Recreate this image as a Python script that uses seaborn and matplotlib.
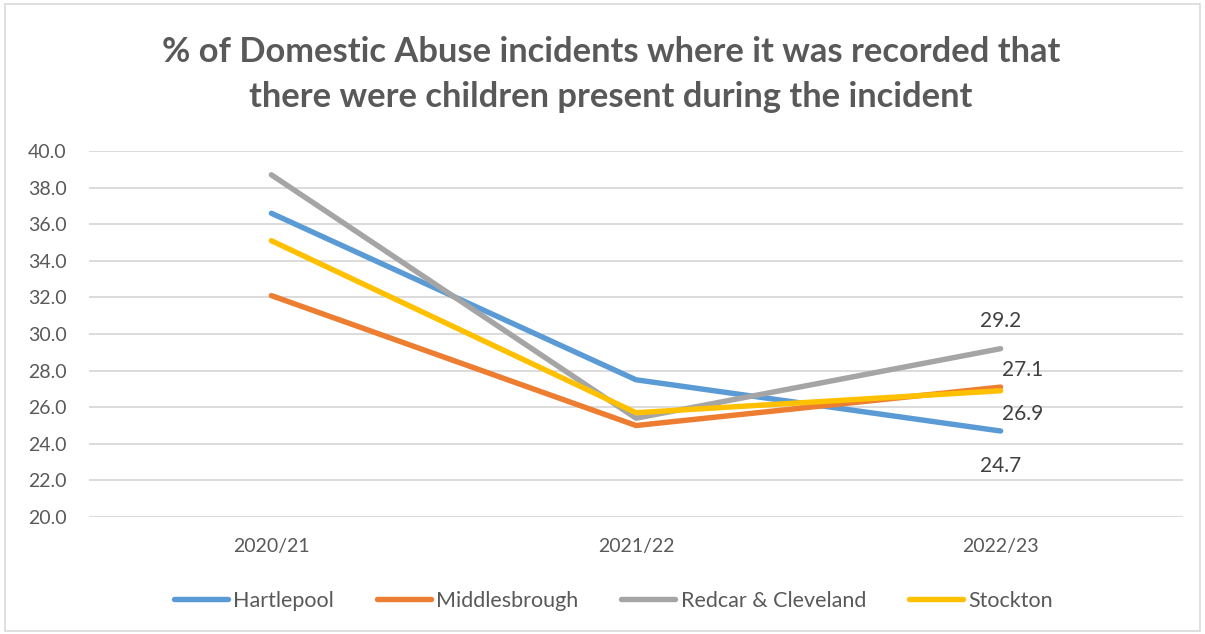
import matplotlib
matplotlib.use("Agg")
import matplotlib.pyplot as plt
import seaborn as sns
import pandas as pd
from matplotlib.patches import Rectangle

# Data
years = ["2020/21", "2021/22", "2022/23"]
hartlepool = [36.6, 27.5, 24.7]
middlesbrough = [32.1, 25.0, 27.1]
redcar = [38.7, 25.4, 29.2]
stockton = [35.1, 25.7, 26.9]
areas = ["Hartlepool", "Middlesbrough", "Redcar & Cleveland", "Stockton"]
y_ticks = [20.0, 22.0, 24.0, 26.0, 28.0, 30.0, 32.0, 34.0, 36.0, 38.0, 40.0]

series = {"Hartlepool": hartlepool, "Middlesbrough": middlesbrough,
          "Redcar & Cleveland": redcar, "Stockton": stockton}
rows = []
for name, vals in series.items():
    for i, (yr, v) in enumerate(zip(years, vals)):
        rows.append({"Year": yr, "pos": i, "Area": name, "Value": v})
df = pd.DataFrame(rows)

palette = {"Hartlepool": "#5B9BD5", "Middlesbrough": "#ED7D31",
           "Redcar & Cleveland": "#A5A5A5", "Stockton": "#FFC000"}

sns.set_theme(style="white")
plt.rcParams["font.family"] = ["Lato", "DejaVu Sans"]
text_col = "#595959"
lw = 3.9

fig = plt.figure(figsize=(12.05, 6.34), dpi=100)
ax = fig.add_axes([0.0739, 0.1845, 0.9078, 0.5773])

sns.lineplot(data=df, x="pos", y="Value", hue="Area", hue_order=areas,
             palette=palette, linewidth=lw, ax=ax, legend=False,
             solid_capstyle="round", zorder=3)

ax.set_xlim(-0.5, 2.5)
ax.set_ylim(20, 40)
ax.set_xticks(range(len(years)))
ax.set_xticklabels(years)
ax.set_yticks(y_ticks)
ax.set_yticklabels([f"{t:.1f}" for t in y_ticks])
ax.tick_params(axis="both", colors=text_col, labelsize=14, length=0)
ax.tick_params(axis="x", pad=15)
ax.tick_params(axis="y", pad=16)
ax.grid(axis="y", color="#D9D9D9", linewidth=1.3, zorder=0)
ax.grid(axis="x", visible=False)
for s in ax.spines.values():
    s.set_visible(False)
ax.set_xlabel("")
ax.set_ylabel("")

# End-point value labels
last = len(years) - 1
label_specs = [
    (redcar[last], 0, 20),
    (middlesbrough[last], 16, 12),
    (stockton[last], 16, -17),
    (hartlepool[last], 0, -25),
]
for val, dx, dy in label_specs:
    ax.annotate(f"{val:.1f}", xy=(last, val), xytext=(dx, dy),
                textcoords="offset points", ha="center", va="center",
                fontsize=15, color="#404040")

# Title
fig.text(0.507, 0.883, "% of Domestic Abuse incidents where it was recorded that\n"
         "there were children present during the incident",
         ha="center", va="center", fontsize=24.8, fontweight="bold",
         color=text_col, linespacing=1.5)

# Legend
handles = [plt.Line2D([0], [0], color=palette[a], linewidth=lw,
                      solid_capstyle="round") for a in areas]
fig.legend(handles, areas, loc="center", bbox_to_anchor=(0.509, 0.052),
           ncol=4, frameon=False, fontsize=15.5, labelcolor=text_col,
           handlelength=2.5, handletextpad=0.25, columnspacing=2.0)

# Chart border
fig.patches.append(Rectangle((0.004, 0.004), 0.992, 0.99, transform=fig.transFigure,
                             fill=False, edgecolor="#D9D9D9", linewidth=1.2))

fig.savefig("out.png", dpi=100, facecolor="white")
